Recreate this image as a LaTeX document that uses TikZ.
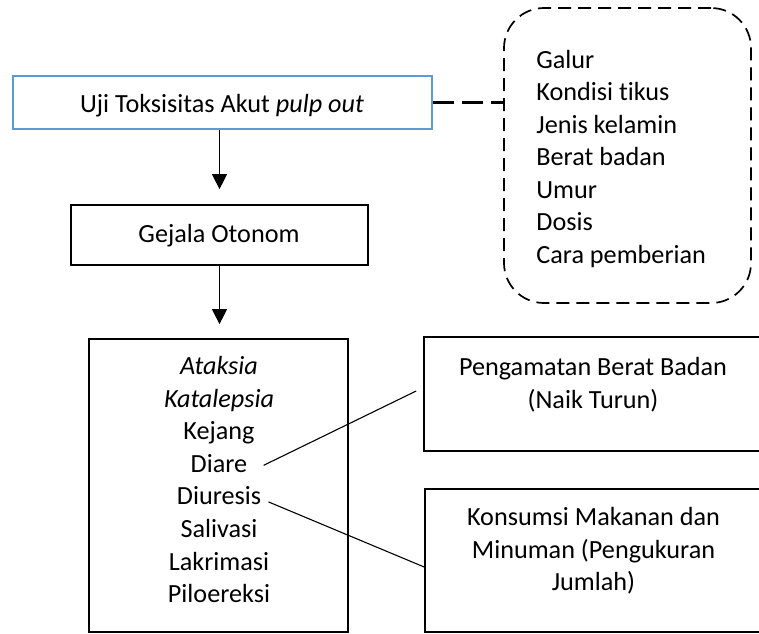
\documentclass[tikz,border=0pt]{standalone}
\usepackage{fontspec}
\setmainfont{Carlito}[Ligatures=NoCommon]
\usetikzlibrary{arrows.meta,calc}
\definecolor{boxblue}{HTML}{5B9BD5}
\begin{document}
\begin{tikzpicture}[x=0.5pt,y=-0.5pt,
  box/.style={draw, line width=0.85pt, inner sep=0pt},
  lbl/.style={inner sep=0pt, font=\fontsize{13.1pt}{16.3pt}\selectfont},
  conn/.style={line width=0.55pt},
  arr/.style={line width=0.6pt, -{Triangle[width=7.5pt,length=7.5pt]}}]
\useasboundingbox (0,0) rectangle (759,633);
% boxes
\node[box, draw=boxblue, line width=1pt, minimum width=209.5pt, minimum height=26.5pt] (uji) at (222.5,102.5) {};
\node[box, minimum width=148.5pt, minimum height=30pt] (gejala) at (219.5,235) {};
\node[box, dashed, dash pattern=on 6.5pt off 3.5pt, rounded corners=20pt, minimum width=123.5pt, minimum height=147.5pt] (fac) at (627.5,155.5) {};
\node[box, minimum width=129.5pt, minimum height=146.5pt] (list) at (218.5,485.5) {};
\node[box, minimum width=169pt, minimum height=57pt] (peng) at (593,394) {};
\node[box, minimum width=168.5pt, minimum height=71.5pt] (kons) at (593.5,560.5) {};
% labels
\node[lbl, anchor=base] (ujit) at (222,112) {Uji Toksisitas Akut \textit{pulp out}};
\node[lbl, anchor=base] (gejt) at (219,242) {Gejala Otonom};
\foreach \t [count=\i from 0] in {Galur,Kondisi tikus,Jenis kelamin,Berat badan,Umur,Dosis,Cara pemberian}
  \node[lbl, anchor=base west] (f\i) at (536,68+32.5*\i) {\t};
\node[lbl, anchor=base] (a0) at (219,374.5) {\textit{Ataksia}};
\node[lbl, anchor=base] (a1) at (219,407.1) {\textit{Katalepsia}};
\node[lbl, anchor=base] (a2) at (219,439.7) {Kejang};
\node[lbl, anchor=base] (a3) at (219,472.3) {Diare};
\node[lbl, anchor=base] (a4) at (219,504.9) {Diuresis};
\node[lbl, anchor=base] (a5) at (219,537.5) {Salivasi};
\node[lbl, anchor=base] (a6) at (219,570.1) {Lakrimasi};
\node[lbl, anchor=base] (a7) at (219,602.7) {Piloereksi};
\node[lbl, anchor=base] (p1) at (593,375) {Pengamatan Berat Badan};
\node[lbl, anchor=base] (p2) at (593,408) {(Naik Turun)};
\node[lbl, anchor=base] (k1) at (593.5,525) {Konsumsi Makanan dan};
\node[lbl, anchor=base] (k2) at (593.5,558) {Minuman (Pengukuran};
\node[lbl, anchor=base] (k3) at (593.5,590) {Jumlah)};
% connectors
\draw[line width=1.4pt, dash pattern=on 10.5pt off 4pt] (uji.east) -- (uji.east -| fac.west);
\draw[arr] (gejala.north |- uji.south) -- ($(gejala.north)+(0,-15)$);
\draw[arr] (gejala.south) -- ($(gejala.south |- list.north)+(0,-14)$);
\draw[conn] ($(a3.base east)+(16,-7)$) -- ($(peng.west)+(-7,-3)$);
\draw[conn] ($(a4.base east)+(7,-3)$) -- ($(kons.west)+(0,6.5)$);
\end{tikzpicture}
\end{document}
